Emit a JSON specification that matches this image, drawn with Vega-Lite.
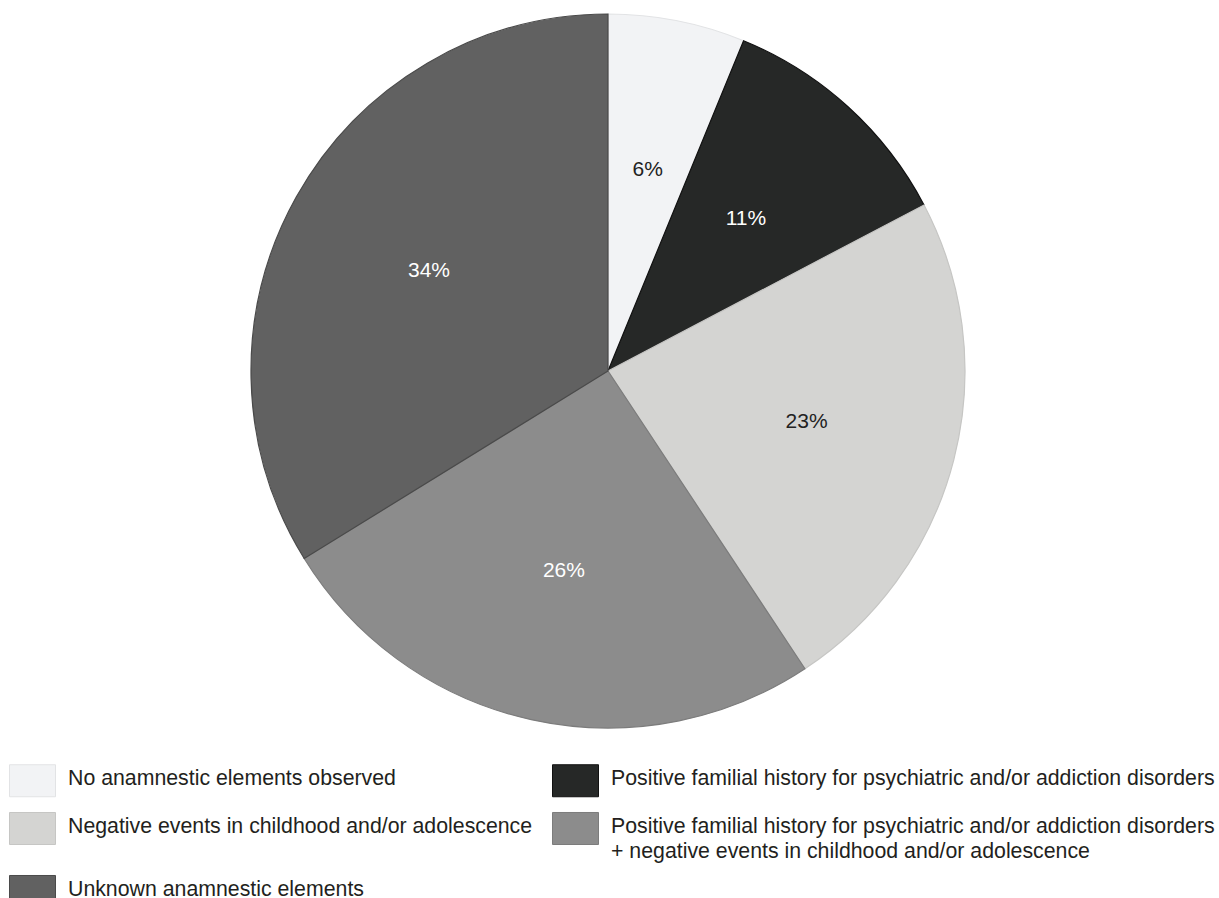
{
  "$schema": "https://vega.github.io/schema/vega-lite/v6.json",
  "width": 1216,
  "height": 742,
  "padding": 0,
  "background": "white",
  "config": {"view": {"stroke": null}, "font": "Liberation Sans"},
  "data": {"values": [
    {"category": "No anamnestic elements observed", "value": 6.2, "label": "6%", "rank": 1},
    {"category": "Positive familial history for psychiatric and/or addiction disorders", "value": 11.1, "label": "11%", "rank": 2},
    {"category": "Negative events in childhood and/or adolescence", "value": 23.4, "label": "23%", "rank": 3},
    {"category": "Positive familial history for psychiatric and/or addiction disorders + negative events in childhood and/or adolescence", "value": 25.5, "label": "26%", "rank": 4},
    {"category": "Unknown anamnestic elements", "value": 33.8, "label": "34%", "rank": 5}
  ]},
  "encoding": {
    "theta": {"field": "value", "type": "quantitative", "stack": true},
    "order": {"field": "rank", "type": "quantitative"}
  },
  "layer": [
    {
      "mark": {"type": "arc", "radius": 357, "strokeWidth": 1.2},
      "encoding": {
        "fill": {
          "field": "category", "type": "nominal",
          "scale": {
            "domain": ["No anamnestic elements observed", "Positive familial history for psychiatric and/or addiction disorders", "Negative events in childhood and/or adolescence", "Positive familial history for psychiatric and/or addiction disorders + negative events in childhood and/or adolescence", "Unknown anamnestic elements"],
            "range": ["#f2f3f5", "#262827", "#d4d4d2", "#8c8c8c", "#616161"]
          },
          "legend": {
            "title": null,
            "orient": "none",
            "direction": "horizontal",
            "legendX": 9,
            "legendY": 757,
            "columns": 2,
            "symbolType": "M-1,-0.696H1V0.696H-1Z",
            "symbolSize": 2116,
            "symbolStrokeColor": "#333333",
            "symbolStrokeWidth": 1,
            "symbolOpacity": 1,
            "labelFont": "Liberation Sans",
            "labelFontSize": 21.3,
            "labelColor": "#231f20",
            "labelLimit": 0,
            "labelOffset": 12,
            "columnPadding": 17,
            "rowPadding": 6,
            "labelBaseline": "alphabetic",
            "labelExpr": "indexof(datum.label, ' + ') > 0 ? [slice(datum.label, 0, indexof(datum.label, ' + ')), slice(datum.label, indexof(datum.label, ' + ') + 1)] : datum.label",
            "encode": {
              "labels": {"update": {"dy": {"value": 4}, "lineHeight": {"value": 25}}},
              "symbols": {"update": {"stroke": {"value": "#333333"}, "strokeWidth": {"value": 1}}}
            }
          }
        },
        "stroke": {
          "field": "category", "type": "nominal",
          "scale": {
            "domain": ["No anamnestic elements observed", "Positive familial history for psychiatric and/or addiction disorders", "Negative events in childhood and/or adolescence", "Positive familial history for psychiatric and/or addiction disorders + negative events in childhood and/or adolescence", "Unknown anamnestic elements"],
            "range": ["#e2e3e5", "#111111", "#c6c6c4", "#7c7c7c", "#4a4a4a"]
          },
          "legend": null
        }
      }
    },
    {
      "mark": {"type": "text", "radius": 205, "font": "Liberation Sans", "fontSize": 21},
      "encoding": {
        "text": {"field": "label", "type": "nominal"},
        "color": {"condition": {"test": "datum.rank == 1 || datum.rank == 3", "value": "#222222"}, "value": "#ffffff"}
      }
    }
  ]
}
